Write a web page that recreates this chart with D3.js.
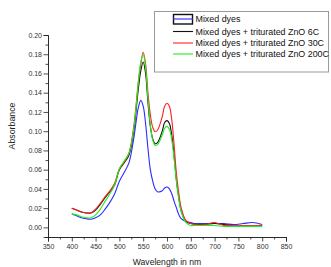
<!DOCTYPE html>
<html>
<head lang="en">
    <meta charset="UTF-8">
    <title>Absorbance</title>
    <style>
        body { margin: 0; background: #fff; }
        text { font-family: "Liberation Sans", Arial, sans-serif; }
    </style>
</head>
<body>
<div id="chart"></div>
<script src="https://cdnjs.cloudflare.com/ajax/libs/d3/7.8.5/d3.min.js"></script>
<script>
// wavelengths (nm) shared by every series
var wavelengths = [400,410,420,430,440,450,460,470,480,490,500,510,520,530,540,545,550,555,560,565,570,575,580,590,595,600,605,610,615,620,625,630,640,650,660,680,700,720,740,760,780,800];

var mixedDyes = [.014,.012,.010,.009,.0085,.010,.013,.019,.026,.035,.048,.057,.067,.092,.125,.132,.126,.108,.082,.060,.048,.040,.037,.038,.041,.042,.040,.035,.027,.020,.013,.009,.006,.005,.004,.004,.004,.004,.003,.004,.005,.003];
var zno6C = [.020,.018,.016,.015,.015,.018,.024,.031,.037,.044,.060,.067,.075,.100,.145,.163,.172,.160,.130,.105,.092,.087,.088,.100,.109,.111,.108,.096,.074,.048,.030,.017,.006,.004,.003,.003,.004,.003,.002,.002,.002,.002];
var zno30C = [.020,.018,.016,.015,.015,.019,.025,.032,.038,.046,.061,.068,.077,.104,.152,.170,.182,.170,.140,.117,.104,.0995,.101,.115,.126,.129,.126,.112,.085,.055,.035,.020,.007,.004,.003,.003,.005,.002,.002,.002,.002,.002];
var zno200C = [.014,.013,.011,.010,.010,.013,.019,.027,.035,.044,.061,.069,.077,.102,.152,.172,.180,.166,.134,.106,.091,.0855,.086,.096,.103,.105,.102,.091,.071,.047,.029,.016,.005,.002,.002,.002,.002,.001,.001,.001,.001,.001];

var seriesNames = ["Mixed dyes", "Mixed dyes + triturated ZnO 6C", "Mixed dyes + triturated ZnO 30C", "Mixed dyes + triturated ZnO 200C"];
var seriesValues = [mixedDyes, zno6C, zno30C, zno200C];
var seriesColors = ["#2b2bff", "#111111", "#ff2020", "#22ee22"];

var xMajor = d3.range(350, 851, 50);
var yMajor = d3.range(0, 0.2001, 0.02);

var width = 331, height = 267;
var plot = {left: 48, right: 286, top: 35, bottom: 237};

var svg = d3.select("#chart").append("svg")
        .attr("width", width)
        .attr("height", height);
svg.append("rect").attr("width", width).attr("height", height).attr("fill", "#fff");

var x = d3.scaleLinear().domain([350, 850]).range([plot.left, plot.right]);
var y = d3.scaleLinear().domain([-0.01, 0.20]).range([plot.bottom, plot.top]);

// minor ticks first, then the labelled ones
var xMinor = d3.axisBottom(x).tickValues(d3.range(375, 850, 50)).tickSize(2.5).tickFormat("");
var yMinor = d3.axisLeft(y).tickValues(d3.range(-0.01, 0.2, 0.02)).tickSize(2.5).tickFormat("");
svg.append("g").attr("transform", "translate(0," + plot.bottom + ")").call(xMinor);
svg.append("g").attr("transform", "translate(" + plot.left + ",0)").call(yMinor);

var xAxis = svg.append("g")
        .attr("transform", "translate(0," + plot.bottom + ")")
        .call(d3.axisBottom(x).tickValues(xMajor).tickSize(4.5).tickPadding(3));
var yAxis = svg.append("g")
        .attr("transform", "translate(" + plot.left + ",0)")
        .call(d3.axisLeft(y).tickValues(yMajor).tickSize(4.5).tickPadding(1.5).tickFormat(d3.format(".2f")));

svg.selectAll(".domain, .tick line").attr("stroke", "#222").attr("stroke-width", 0.8);
svg.selectAll(".tick text").attr("font-size", "7px").attr("fill", "#333")
        .style("font-family", "'Liberation Sans', Arial, sans-serif");

svg.append("text")
        .attr("x", (plot.left + plot.right) / 2)
        .attr("y", 265)
        .attr("text-anchor", "middle")
        .attr("font-size", "8.6px")
        .attr("fill", "#222")
        .text("Wavelength in nm");

svg.append("text")
        .attr("transform", "translate(15," + ((plot.top + plot.bottom) / 2 - 10) + ") rotate(-90)")
        .attr("text-anchor", "middle")
        .attr("font-size", "8.8px")
        .attr("fill", "#222")
        .text("Absorbance");

var line = d3.line()
        .x(function (d) { return x(d[0]); })
        .y(function (d) { return y(d[1]); })
        .curve(d3.curveCatmullRom.alpha(0.5));

seriesValues.forEach(function (vals, i) {
    var pts = wavelengths.map(function (w, j) { return [w, vals[j]]; });
    svg.append("path")
            .attr("d", line(pts))
            .attr("fill", "none")
            .attr("stroke", seriesColors[i])
            .attr("stroke-width", 1.1);
});

// legend
var lg = svg.append("g");
lg.append("rect")
        .attr("x", 154.5).attr("y", 11.5)
        .attr("width", 174).attr("height", 60.5)
        .attr("fill", "#fff")
        .attr("stroke", "#9a9a9a")
        .attr("stroke-width", 1);

var rowY = [19, 31.5, 43, 54];
seriesNames.forEach(function (name, i) {
    if (i == 0) {
        lg.append("rect")
                .attr("x", 173.5).attr("y", rowY[i] - 4.5)
                .attr("width", 19).attr("height", 9.5)
                .attr("fill", "#fff")
                .attr("stroke", "#111")
                .attr("stroke-width", 1.4);
    }
    lg.append("line")
            .attr("x1", 173).attr("x2", 193)
            .attr("y1", rowY[i]).attr("y2", rowY[i])
            .attr("stroke", seriesColors[i])
            .attr("stroke-width", 1.1);
    lg.append("text")
            .attr("x", 195.5)
            .attr("y", rowY[i] + 3.2)
            .attr("font-size", "8.9px")
            .attr("fill", "#111")
            .text(name);
});
</script>
</body>
</html>
